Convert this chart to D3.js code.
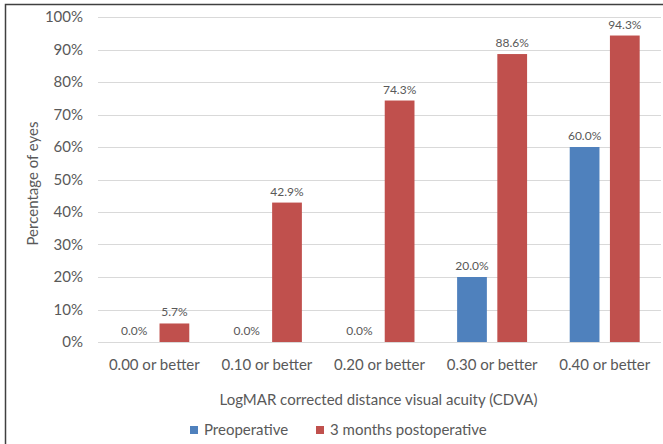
<!DOCTYPE html>
<html>
<head>
<meta charset="utf-8">
<script src="https://cdn.jsdelivr.net/npm/d3@7"></script>
<style>
  html, body { margin: 0; padding: 0; background: #fff; }
  svg { display: block; font-family: Lato, "Open Sans", sans-serif; }
</style>
</head>
<body>
<svg id="chart" width="663" height="444"></svg>
<script>
// Categories and series values (percent of eyes)
const categories = ["0.00 or better", "0.10 or better", "0.20 or better", "0.30 or better", "0.40 or better"];
const seriesNames = ["Preoperative", "3 months postoperative"];
const preoperative = [0.0, 0.0, 0.0, 20.0, 60.0];
const postoperative = [5.7, 42.9, 74.3, 88.6, 94.3];
const yTicks = [0, 10, 20, 30, 40, 50, 60, 70, 80, 90, 100];
const colors = ["#4F81BD", "#C0504D"];

const svg = d3.select("#chart");
const textColor = "#595959";

// outer frame (extends past the bottom/right edge)
svg.append("rect")
  .attr("x", 5.5).attr("y", 4.5)
  .attr("width", 700).attr("height", 500)
  .attr("fill", "none").attr("stroke", "#404040").attr("stroke-width", 1.5);

const plot = { left: 98, right: 661, top: 17, bottom: 342 };

const x = d3.scaleBand().domain(categories).range([plot.left, plot.right]);
const sub = d3.scaleBand().domain(seriesNames).range([0, x.bandwidth()]).paddingInner(0.26).paddingOuter(0.53);
const y = d3.scaleLinear().domain([0, 100]).range([plot.bottom, plot.top]);

// gridlines
svg.append("g").selectAll("line").data(yTicks).join("line")
  .attr("x1", plot.left).attr("x2", plot.right)
  .attr("y1", d => Math.round(y(d)) + 0.5).attr("y2", d => Math.round(y(d)) + 0.5)
  .attr("stroke", "#d9d9d9").attr("stroke-width", 1);

// y axis labels
const yAxis = d3.axisLeft(y).tickValues(yTicks).tickFormat(d => d + "%").tickSize(0).tickPadding(0);
const gy = svg.append("g").attr("transform", `translate(${plot.left - 15},0)`).call(yAxis);
gy.select(".domain").remove();
gy.selectAll("text").attr("fill", textColor).style("font-size", "15px").style("font-family", "Lato, sans-serif");

// x axis labels
const xAxis = d3.axisBottom(x).tickSize(0).tickPadding(0);
const gx = svg.append("g").attr("transform", `translate(0,${plot.bottom + 17})`).call(xAxis);
gx.select(".domain").remove();
gx.selectAll("text").attr("fill", textColor).style("font-size", "15px").style("font-family", "Lato, sans-serif");

// bars
const rows = categories.map((c, i) => ({ cat: c, vals: [preoperative[i], postoperative[i]] }));
const groups = svg.append("g").selectAll("g").data(rows).join("g")
  .attr("transform", d => `translate(${x(d.cat)},0)`);

groups.selectAll("rect").data(d => d.vals.map((v, k) => ({ v, k })))
  .join("rect")
  .attr("x", d => sub(seriesNames[d.k]))
  .attr("width", sub.bandwidth())
  .attr("y", d => y(d.v))
  .attr("height", d => y(0) - y(d.v))
  .attr("fill", d => colors[d.k]);

// value labels
groups.selectAll("text").data(d => d.vals.map((v, k) => ({ v, k })))
  .join("text")
  .attr("x", d => sub(seriesNames[d.k]) + sub.bandwidth() / 2)
  .attr("y", d => y(d.v) - 7)
  .attr("text-anchor", "middle")
  .attr("fill", textColor)
  .style("font-size", "12px")
  .text(d => d.v.toFixed(1) + "%");

// axis titles
svg.append("text")
  .attr("transform", `translate(38,${(plot.top + plot.bottom) / 2 + 4}) rotate(-90)`)
  .attr("text-anchor", "middle").attr("fill", textColor)
  .style("font-size", "15px")
  .text("Percentage of eyes");

svg.append("text")
  .attr("x", (plot.left + plot.right) / 2 - 1).attr("y", 405)
  .attr("text-anchor", "middle").attr("fill", textColor)
  .style("font-size", "15px")
  .text("LogMAR corrected distance visual acuity (CDVA)");

// legend
const legendX = [190, 316];
const lg = svg.append("g").selectAll("g").data(seriesNames).join("g")
  .attr("transform", (d, i) => `translate(${legendX[i]},426)`);
lg.append("rect").attr("width", 8).attr("height", 8).attr("fill", (d, i) => colors[i]);
lg.append("text").attr("x", 14).attr("y", 9)
  .attr("fill", textColor).style("font-size", "15px").text(d => d);
</script>
</body>
</html>
